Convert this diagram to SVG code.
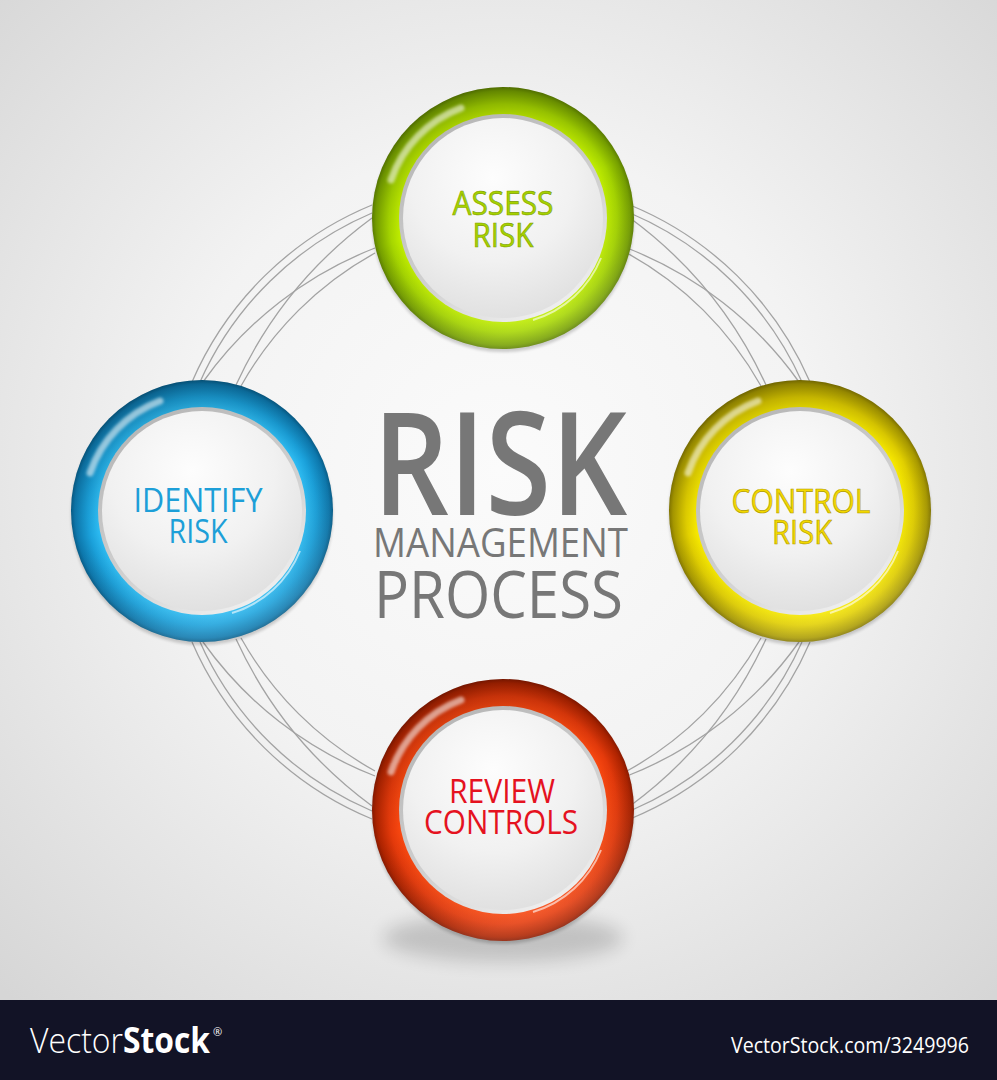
<svg xmlns="http://www.w3.org/2000/svg" width="997" height="1080" viewBox="0 0 997 1080">
<defs>
  <radialGradient id="bg" cx="500" cy="470" r="720" gradientUnits="userSpaceOnUse">
    <stop offset="0" stop-color="#fbfbfb"/>
    <stop offset="0.45" stop-color="#f3f3f3"/>
    <stop offset="1" stop-color="#d6d6d6"/>
  </radialGradient>
  <radialGradient id="gGreen" cx="0.5" cy="0.5" r="0.5">
    <stop offset="0.77" stop-color="#c8f500"/>
    <stop offset="0.87" stop-color="#a6d600"/>
    <stop offset="0.97" stop-color="#76a000"/>
    <stop offset="1" stop-color="#5d8000"/>
  </radialGradient>
  <radialGradient id="gBlue" cx="0.5" cy="0.5" r="0.5">
    <stop offset="0.77" stop-color="#33c4fa"/>
    <stop offset="0.87" stop-color="#1ba2dc"/>
    <stop offset="0.97" stop-color="#0d78ad"/>
    <stop offset="1" stop-color="#075e8a"/>
  </radialGradient>
  <radialGradient id="gYellow" cx="0.5" cy="0.5" r="0.5">
    <stop offset="0.77" stop-color="#fff200"/>
    <stop offset="0.87" stop-color="#e2d000"/>
    <stop offset="0.97" stop-color="#a99a00"/>
    <stop offset="1" stop-color="#857800"/>
  </radialGradient>
  <radialGradient id="gRed" cx="0.5" cy="0.5" r="0.5">
    <stop offset="0.77" stop-color="#ff4c12"/>
    <stop offset="0.87" stop-color="#e53a0b"/>
    <stop offset="0.97" stop-color="#ad2300"/>
    <stop offset="1" stop-color="#8a1a00"/>
  </radialGradient>
  <linearGradient id="shade" x1="0" y1="0" x2="0.35" y2="1">
    <stop offset="0" stop-color="#000" stop-opacity="0.22"/>
    <stop offset="0.55" stop-color="#000" stop-opacity="0"/>
    <stop offset="1" stop-color="#fff" stop-opacity="0.12"/>
  </linearGradient>
  <linearGradient id="rim" x1="0.2" y1="0" x2="0.8" y2="1">
    <stop offset="0" stop-color="#b4b4b4"/>
    <stop offset="0.6" stop-color="#d2d2d2"/>
    <stop offset="1" stop-color="#f4f4f4"/>
  </linearGradient>
  <radialGradient id="disc" cx="0.45" cy="0.3" r="0.75">
    <stop offset="0" stop-color="#fdfdfd"/>
    <stop offset="0.55" stop-color="#f1f1f1"/>
    <stop offset="1" stop-color="#dedede"/>
  </radialGradient>
  <filter id="blur" x="-50%" y="-50%" width="200%" height="200%">
    <feGaussianBlur stdDeviation="9"/>
  </filter>
  <filter id="blurS" x="-20%" y="-20%" width="140%" height="140%">
    <feGaussianBlur stdDeviation="1.4"/>
  </filter>
  <style>
    .arc{fill:none;stroke:#a3a3a3;stroke-width:1.3}
    .lbl{font-family:"Open Sans","Liberation Sans",sans-serif;font-size:32px;text-anchor:middle}
    .big{font-family:"Open Sans","Liberation Sans",sans-serif;fill:#777777}
    .gloss{fill:none;stroke:#fff;stroke-width:7;stroke-linecap:round;opacity:0.55}
    .refl{fill:none;stroke:#fff;stroke-width:2;opacity:0.6}
    .shadow{fill:#000;opacity:0.16}
  </style>
</defs>

<rect x="0" y="0" width="997" height="1000" fill="url(#bg)"/>

<g id="connectors">
  <path class="arc" d="M372,205 A335,335 0 0 0 192,382"/>
  <path class="arc" d="M372,213 A330,330 0 0 0 200,382"/>
  <path class="arc" d="M372,218 A430,430 0 0 0 236,385"/>
  <path class="arc" d="M375,248 A380,380 0 0 0 203,382"/>
  <path class="arc" d="M375,253 A345,345 0 0 0 241,386"/>
  <path class="arc" d="M630,205 A335,335 0 0 1 810,382"/>
  <path class="arc" d="M630,213 A330,330 0 0 1 802,382"/>
  <path class="arc" d="M630,218 A430,430 0 0 1 766,385"/>
  <path class="arc" d="M627,248 A380,380 0 0 1 799,382"/>
  <path class="arc" d="M627,253 A345,345 0 0 1 761,386"/>
  <path class="arc" d="M372,819 A335,335 0 0 1 192,642"/>
  <path class="arc" d="M372,811 A330,330 0 0 1 200,642"/>
  <path class="arc" d="M372,806 A430,430 0 0 1 236,639"/>
  <path class="arc" d="M375,776 A380,380 0 0 1 203,642"/>
  <path class="arc" d="M375,771 A345,345 0 0 1 241,638"/>
  <path class="arc" d="M630,819 A335,335 0 0 0 810,642"/>
  <path class="arc" d="M630,811 A330,330 0 0 0 802,642"/>
  <path class="arc" d="M630,806 A430,430 0 0 0 766,639"/>
  <path class="arc" d="M627,776 A380,380 0 0 0 799,642"/>
  <path class="arc" d="M627,771 A345,345 0 0 0 761,638"/>
</g>

<g id="assess" transform="translate(503,218)">
  <circle cx="0" cy="3" r="131" fill="#000" opacity="0.18" filter="url(#blurS)"/>
  <circle r="131" fill="url(#gGreen)"/>
  <circle r="131" fill="url(#shade)"/>
  <path class="gloss" d="M-112,-38 A118,118 0 0 1 -42,-110" filter="url(#blurS)"/>
  <path class="refl" d="M98,40 A106,106 0 0 1 30,102"/>
  <circle r="104" fill="url(#rim)"/>
  <circle r="100" fill="url(#disc)"/>
  <text class="lbl" x="0" y="-3" textLength="101" lengthAdjust="spacingAndGlyphs" fill="#a6d200" stroke="#7e9e00" stroke-width="0.6">ASSESS</text>
  <text class="lbl" x="0" y="29" textLength="61" lengthAdjust="spacingAndGlyphs" fill="#a6d200" stroke="#7e9e00" stroke-width="0.6">RISK</text>
</g>

<g id="identify" transform="translate(202,511)">
  <circle cx="0" cy="3" r="131" fill="#000" opacity="0.18" filter="url(#blurS)"/>
  <circle r="131" fill="url(#gBlue)"/>
  <circle r="131" fill="url(#shade)"/>
  <path class="gloss" d="M-112,-38 A118,118 0 0 1 -42,-110" filter="url(#blurS)"/>
  <path class="refl" d="M98,40 A106,106 0 0 1 30,102"/>
  <circle r="104" fill="url(#rim)"/>
  <circle r="100" fill="url(#disc)"/>
  <text class="lbl" x="-4" y="1" textLength="129" lengthAdjust="spacingAndGlyphs" fill="#1d9fd8">IDENTIFY</text>
  <text class="lbl" x="-4" y="32" textLength="59" lengthAdjust="spacingAndGlyphs" fill="#1d9fd8">RISK</text>
</g>

<g id="control" transform="translate(800,511)">
  <circle cx="0" cy="3" r="131" fill="#000" opacity="0.18" filter="url(#blurS)"/>
  <circle r="131" fill="url(#gYellow)"/>
  <circle r="131" fill="url(#shade)"/>
  <path class="gloss" d="M-112,-38 A118,118 0 0 1 -42,-110" filter="url(#blurS)"/>
  <path class="refl" d="M98,40 A106,106 0 0 1 30,102"/>
  <circle r="104" fill="url(#rim)"/>
  <circle r="100" fill="url(#disc)"/>
  <text class="lbl" x="1" y="2" textLength="139" lengthAdjust="spacingAndGlyphs" fill="#f3d800" stroke="#b09a00" stroke-width="0.6">CONTROL</text>
  <text class="lbl" x="2" y="33" textLength="60" lengthAdjust="spacingAndGlyphs" fill="#f3d800" stroke="#b09a00" stroke-width="0.6">RISK</text>
</g>

<g id="review" transform="translate(503,810)">
  <ellipse class="shadow" cx="0" cy="128" rx="120" ry="24" filter="url(#blur)" opacity="0.3"/>
  <circle cx="0" cy="3" r="131" fill="#000" opacity="0.18" filter="url(#blurS)"/>
  <circle r="131" fill="url(#gRed)"/>
  <circle r="131" fill="url(#shade)"/>
  <path class="gloss" d="M-112,-38 A118,118 0 0 1 -42,-110" filter="url(#blurS)"/>
  <path class="refl" d="M98,40 A106,106 0 0 1 30,102"/>
  <circle r="104" fill="url(#rim)"/>
  <circle r="100" fill="url(#disc)"/>
  <text class="lbl" x="-1" y="-7" textLength="106" lengthAdjust="spacingAndGlyphs" fill="#e5121f">REVIEW</text>
  <text class="lbl" x="-2" y="24" textLength="154" lengthAdjust="spacingAndGlyphs" fill="#e5121f">CONTROLS</text>
</g>

<g id="title">
  <text class="big" x="373" y="515" font-size="144" font-weight="600" textLength="254" lengthAdjust="spacingAndGlyphs">RISK</text>
  <text class="big" x="373" y="557" font-size="41" textLength="255" lengthAdjust="spacingAndGlyphs">MANAGEMENT</text>
  <text class="big" x="374" y="618" font-size="65" textLength="249" lengthAdjust="spacingAndGlyphs">PROCESS</text>
</g>

<g id="footer">
  <rect x="0" y="1000" width="997" height="80" fill="#121326"/>
  <text x="30" y="1053" font-family="'Open Sans','Liberation Sans',sans-serif" font-size="35" fill="#fff"><tspan font-weight="300" textLength="93" lengthAdjust="spacingAndGlyphs">Vector</tspan><tspan font-weight="700" textLength="87" lengthAdjust="spacingAndGlyphs">Stock</tspan></text>
  <text x="213" y="1036" font-family="'Open Sans','Liberation Sans',sans-serif" font-size="11" fill="#fff">®</text>
  <text x="731" y="1053" font-family="'Open Sans','Liberation Sans',sans-serif" font-size="22" fill="#fff" textLength="238" lengthAdjust="spacingAndGlyphs">VectorStock.com/3249996</text>
</g>
</svg>
